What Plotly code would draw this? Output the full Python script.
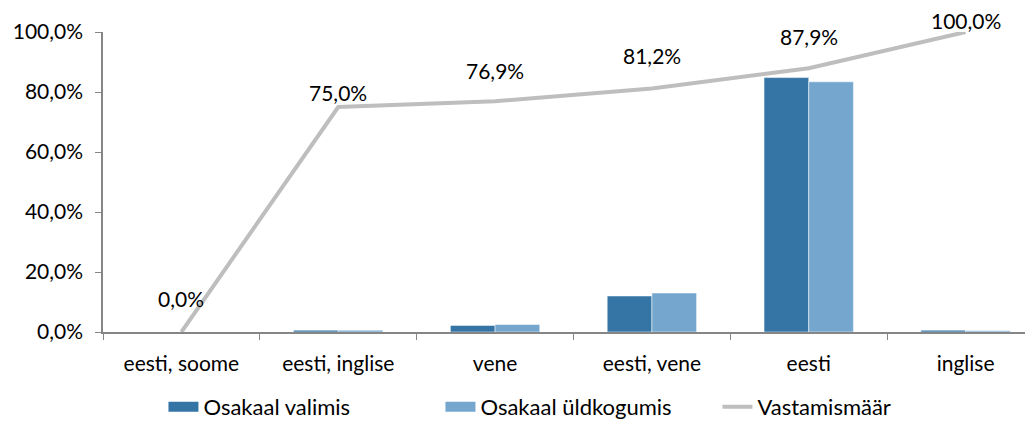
import plotly.graph_objects as go

keeled = ['eesti, soome', 'eesti, inglise', 'vene', 'eesti, vene', 'eesti', 'inglise']
osakaal_valimis = [0.0, 0.6, 2.2, 12.0, 84.8, 0.6]
osakaal_uldkogumis = [0.0, 0.6, 2.5, 13.0, 83.4, 0.4]
vastamismaar = [0.0, 75.0, 76.9, 81.2, 87.9, 100.0]
silt_nihe = [34, 15, 31, 33, 32, 12]  # sildi kõrgus punkti kohal (px)

tume = '#3575A6'
hele = '#75A7CE'
hall = '#BEBEBE'
font = 'Lato, Open Sans, sans-serif'

fig = go.Figure()
fig.add_trace(go.Bar(x=keeled, y=osakaal_valimis, name='Osakaal valimis',
                     marker=dict(color=tume, line=dict(color='white', width=0.5)),
                     showlegend=False))
fig.add_trace(go.Bar(x=keeled, y=osakaal_uldkogumis, name='Osakaal üldkogumis',
                     marker=dict(color=hele, line=dict(color='white', width=0.5)),
                     showlegend=False))
fig.add_trace(go.Scatter(x=keeled, y=vastamismaar, mode='lines', name='Vastamismäär',
                         line=dict(color=hall, width=4), cliponaxis=False,
                         showlegend=False))

# legendi kirjed laiade ristkülikutega nagu Excelis
for nimi, varv, laius in [('Osakaal valimis', tume, 13), ('Osakaal üldkogumis', hele, 13),
                          ('Vastamismäär', hall, 4)]:
    fig.add_trace(go.Scatter(x=[None], y=[None], mode='lines', name=nimi,
                             line=dict(color=varv, width=laius)))

for k, v, n in zip(keeled, vastamismaar, silt_nihe):
    fig.add_annotation(x=k, y=v, text=f'{v:.1f}%'.replace('.', ','), showarrow=False,
                       yshift=n, font=dict(size=21, color='#000000', family=font))

# lehe body-l on 8px ääris, seega joonis on 8px võrra väiksem
fig.update_layout(
    width=1025, height=418,
    margin=dict(l=95, r=0, t=24, b=94, autoexpand=False),
    plot_bgcolor='white', paper_bgcolor='white',
    font=dict(family=font, size=21, color='#000000'),
    barmode='group', bargap=0.43, bargroupgap=0,
    separators=', ',
    legend=dict(orientation='h', x=0.065, xanchor='left', y=-0.25, yanchor='middle',
                font=dict(size=22), entrywidth=232, tracegroupgap=0),
)
fig.update_xaxes(showline=True, linecolor='#868686', linewidth=1.5, automargin=False,
                 ticks='outside', tickson='boundaries', ticklen=6, tickcolor='#868686',
                 ticklabelstandoff=12, range=[-0.5, 5.43], showgrid=False)
fig.update_yaxes(range=[0, 100], dtick=20, ticksuffix='%', tickformat='.1f',
                 showline=True, linecolor='#868686', linewidth=1.5, automargin=False,
                 ticks='outside', ticklen=6, tickcolor='#868686', ticklabelstandoff=8,
                 showgrid=False, zeroline=False)

fig.write_html('out.html')
